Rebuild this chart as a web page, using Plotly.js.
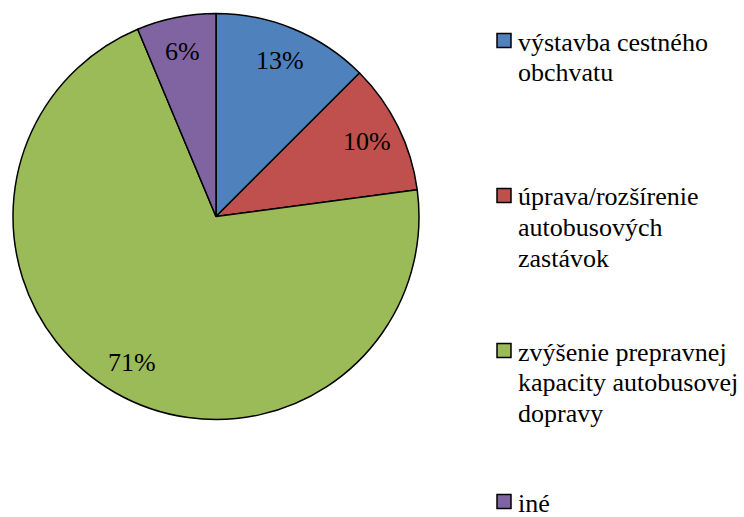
<!DOCTYPE html>
<html><head><meta charset="utf-8">
<script src="https://cdn.plot.ly/plotly-3.0.1.min.js"></script>
<style>html,body{margin:0;padding:0;background:#fff}#chart{width:744px;height:517px}</style>
</head><body><div id="chart"></div>
<script>
// Data
const categories = ["výstavba cestného obchvatu", "úprava/rozšírenie autobusových zastávok", "zvýšenie prepravnej kapacity autobusovej dopravy", "iné"];
const legendLines = [["výstavba cestného", "obchvatu"], ["úprava/rozšírenie", "autobusových", "zastávok"], ["zvýšenie prepravnej", "kapacity autobusovej", "dopravy"], ["iné"]];
const values = [12.5, 10.4, 70.8, 6.3];
const percentLabels = ["13%", "10%", "71%", "6%"];
const colors = ["#4F81BD", "#C0504D", "#9BBB59", "#8064A2"];

// Layout constants
const W = 744, H = 517;
const FONT = "Liberation Serif";
const FS = 26;
const CX = 216, CY = 216.5, R = 203;
const labelR = 0.83;
const legendCenters = [42, 197, 352, 503]; // px, y of first line center
const lineGap = 30.5;
const boxX0 = 497, boxSize = 14, textX = 516;

const shapes = [], annotations = [];
legendLines.forEach((lines, i) => {
  const cy = legendCenters[i];
  const by = cy - 1.5;
  shapes.push({type: "rect", xref: "paper", yref: "paper",
    x0: boxX0 / W, x1: (boxX0 + boxSize) / W,
    y0: 1 - (by - boxSize / 2) / H, y1: 1 - (by + boxSize / 2) / H,
    fillcolor: colors[i], line: {color: "#000", width: 1.5}});
  lines.forEach((ln, k) => {
    annotations.push({xref: "paper", yref: "paper", x: textX / W, y: 1 - (cy + k * lineGap) / H,
      xanchor: "left", yanchor: "middle", align: "left", showarrow: false,
      text: ln, font: {family: FONT, size: FS, color: "#000"}});
  });
});

// Percent labels placed at the middle angle of each slice (derived from values)
const total = values.reduce((a, b) => a + b, 0);
let cum = 0;
values.forEach((v, i) => {
  const mid = (cum + v / 2) / total * 2 * Math.PI;
  cum += v;
  const px = CX + labelR * R * Math.sin(mid);
  const py = CY - labelR * R * Math.cos(mid);
  annotations.push({xref: "paper", yref: "paper", x: px / W, y: 1 - py / H,
    xanchor: "center", yanchor: "middle", showarrow: false,
    text: percentLabels[i], font: {family: FONT, size: FS, color: "#000"}});
});

const trace = {
  type: "pie", labels: categories, values: values, sort: false, direction: "clockwise", rotation: 0,
  marker: {colors: colors, line: {color: "#000", width: 1.5}},
  textinfo: "none",
  domain: {x: [(CX - R) / W, (CX + R) / W], y: [1 - (CY + R) / H, 1 - (CY - R) / H]},
  hoverinfo: "label+percent", showlegend: false
};

Plotly.newPlot("chart", [trace], {
  width: W, height: H, margin: {l: 0, r: 0, t: 0, b: 0},
  paper_bgcolor: "#fff", plot_bgcolor: "#fff", showlegend: false,
  font: {family: FONT, size: FS, color: "#000"},
  shapes: shapes, annotations: annotations
}, {displayModeBar: false, staticPlot: true});
</script></body></html>
